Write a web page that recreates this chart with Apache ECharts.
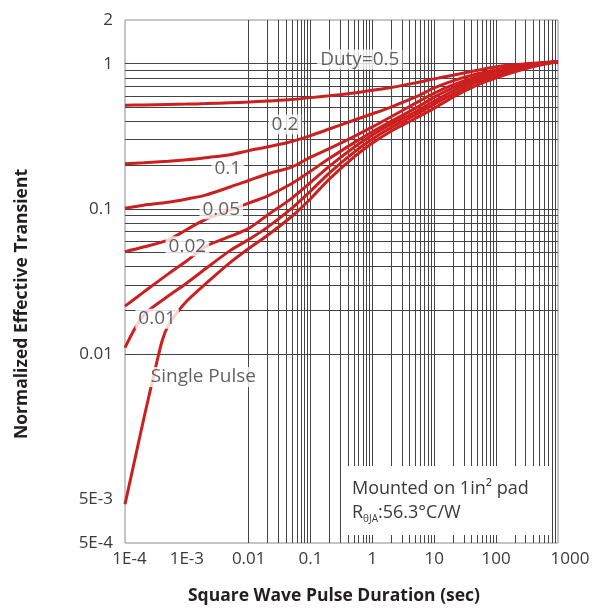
<!DOCTYPE html>
<html>
<head>
<meta charset="utf-8">
<script src="https://cdn.jsdelivr.net/npm/echarts@6/dist/echarts.min.js"></script>
<style>
  html, body { margin: 0; padding: 0; background: #fff; }
  #chart { width: 606px; height: 609px; }
</style>
</head>
<body>
<div id="chart"></div>
<script>
// Axis ticks and their printed labels
const xTicks = [1e-4, 1e-3, 0.01, 0.1, 1, 10, 100, 1000];
const xTickLabels = ['1E-4', '1E-3', '0.01', '0.1', '1', '10', '100', '1000'];
const yTicks = [5e-4, 1e-3, 0.01, 0.1, 1, 2];
const yTickLabels = ['5E-4', '5E-3', '0.01', '0.1', '1', '2'];

// Pulse durations (s) shared by the duty-cycle curves
const pulseTime = [1e-4, 2e-4, 5e-4, 1e-3, 2e-3, 5e-3, 0.01, 0.02, 0.05, 0.1, 0.2, 0.5,
                   1, 2, 5, 10, 20, 50, 100, 200, 500, 1000];

// Normalized effective transient thermal impedance per duty cycle
const duty05 = [0.518, 0.520, 0.524, 0.527, 0.531, 0.538, 0.544, 0.553, 0.566, 0.584, 0.601, 0.628,
                0.656, 0.686, 0.738, 0.786, 0.832, 0.901, 0.953, 0.984, 1.016, 1.03];
const duty02 = [0.205, 0.208, 0.213, 0.218, 0.225, 0.236, 0.252, 0.267, 0.291, 0.320, 0.355, 0.408,
                0.452, 0.503, 0.590, 0.681, 0.762, 0.852, 0.908, 0.961, 1.008, 1.03];
const duty01 = [0.101, 0.106, 0.111, 0.117, 0.1245, 0.1416, 0.157, 0.174, 0.195, 0.227, 0.260, 0.315,
                0.367, 0.431, 0.535, 0.628, 0.714, 0.818, 0.880, 0.945, 1.0, 1.03];
const duty005 = [0.0508, 0.0546, 0.0611, 0.0722, 0.0848, 0.098, 0.1096, 0.1226, 0.1497, 0.182, 0.222, 0.285,
                 0.340, 0.401, 0.494, 0.589, 0.681, 0.799, 0.866, 0.938, 1.0, 1.03];
const duty002 = [0.0214, 0.0267, 0.0357, 0.0440, 0.055, 0.0646, 0.0734, 0.0904, 0.1187, 0.1523, 0.1965, 0.265,
                 0.323, 0.383, 0.467, 0.553, 0.649, 0.780, 0.852, 0.923, 0.992, 1.03];
const duty001 = [0.01107, 0.0185, 0.0251, 0.0309, 0.0387, 0.0516, 0.0615, 0.0746, 0.1011, 0.1326, 0.1766, 0.2453,
                 0.3035, 0.363, 0.445, 0.527, 0.618, 0.749, 0.825, 0.901, 0.984, 1.03];

// Single pulse curve (denser sampling at the steep start)
const singleTime = [1e-4, 1.5e-4, 2e-4, 2.5e-4, 3e-4, 4e-4, 5e-4, 7e-4, 1e-3, 2e-3, 5e-3, 0.01, 0.02, 0.05,
                    0.1, 0.2, 0.5, 1, 2, 5, 10, 20, 50, 100, 200, 500, 1000];
const singlePulse = [9.24e-4, 2.03e-3, 3.55e-3, 5.39e-3, 7.54e-3, 0.0124, 0.01576, 0.0194, 0.0232, 0.0304,
                     0.0426, 0.0533, 0.0656, 0.089, 0.1175, 0.160, 0.227, 0.284, 0.343, 0.421, 0.494,
                     0.589, 0.714, 0.799, 0.880, 0.976, 1.03];

// Curve tags: text and the data point each one is centred on
const tagText = ['Duty=0.5', '0.2', '0.1', '0.05', '0.02', '0.01', 'Single Pulse'];
const tagTime = [0.625, 0.0385, 4.6e-3, 3.6e-3, 1.02e-3, 3.3e-4, 1.85e-3];
const tagLevel = [1.07, 0.382, 0.189, 0.0995, 0.0554, 0.0175, 6.96e-3];

const FONT = '"Open Sans", "Noto Sans", sans-serif';
const TEXT = '#3a3a3a';
const RED = '#cc1f1f';

// Log-paper grid: 1..9 x 10^n inside the plotted ranges
function logGrid(lo, hi, skipAbove) {
  const out = [];
  for (let n = -5; n <= 3; n++) {
    for (let k = 1; k <= 9; k++) {
      const v = +(k * Math.pow(10, n)).toPrecision(6);
      if (v > lo * 1.0001 && v < hi * 0.9999 && !(skipAbove && v > skipAbove * 1.0001)) out.push(v);
    }
  }
  return out;
}
const xGrid = logGrid(1e-4, 1000);
const yGrid = logGrid(5e-4, 2, 1);

function pickLabel(v, ticks, labels) {
  const lv = Math.log10(v);
  for (let i = 0; i < ticks.length; i++) {
    if (Math.abs(lv - Math.log10(ticks[i])) < 0.02) return labels[i];
  }
  return '';
}

function curve(name, times, values) {
  return {
    name: name,
    type: 'line',
    data: times.map((t, i) => [t, values[i]]),
    showSymbol: false,
    symbol: 'none',
    smooth: 0.3,
    lineStyle: { color: RED, width: 3 },
    zlevel: 1,
    z: 3,
    silent: true
  };
}

const chart = echarts.init(document.getElementById('chart'), null, { renderer: 'canvas' });

chart.setOption({
  animation: false,
  backgroundColor: '#fff',
  grid: { left: 125, right: 48, top: 20, bottom: 66, show: true, borderColor: '#8c8c8c', borderWidth: 1 },
  xAxis: {
    type: 'log',
    logBase: 10,
    min: 1e-4,
    max: 1000,
    axisLine: { show: false },
    axisTick: { show: false },
    splitLine: { show: false },
    axisLabel: {
      margin: 8,
      color: TEXT,
      fontFamily: FONT,
      fontSize: 17,
      formatter: function (v) {
        const s = pickLabel(v, xTicks, xTickLabels);
        if (s === xTickLabels[0]) return '{first|' + s + '}';
        if (s === xTickLabels[xTickLabels.length - 1]) return '{last|' + s + '}';
        return s;
      },
      rich: {
        first: { color: TEXT, fontFamily: FONT, fontSize: 17, padding: [0, 0, 0, 9] },
        last: { color: TEXT, fontFamily: FONT, fontSize: 17, padding: [0, 0, 0, 24] }
      }
    }
  },
  yAxis: {
    type: 'log',
    logBase: 10,
    min: 5e-4,
    max: 2,
    axisLine: { show: false },
    axisTick: { show: false },
    splitLine: { show: false },
    axisLabel: {
      margin: 12,
      color: TEXT,
      fontFamily: FONT,
      fontSize: 17,
      formatter: function (v) { return pickLabel(v, yTicks, yTickLabels); }
    }
  },
  series: [
    {
      name: 'grid',
      type: 'line',
      data: [],
      zlevel: 0,
      z: 1,
      silent: true,
      markLine: {
        silent: true,
        animation: false,
        symbol: ['none', 'none'],
        label: { show: false },
        emphasis: { disabled: true },
        lineStyle: { color: '#444', width: 1, type: 'solid' },
        data: xGrid.map(v => ({ xAxis: v })).concat(yGrid.map(v => ({ yAxis: v })))
      }
    },
    curve('Duty=0.5', pulseTime, duty05),
    curve('0.2', pulseTime, duty02),
    curve('0.1', pulseTime, duty01),
    curve('0.05', pulseTime, duty005),
    curve('0.02', pulseTime, duty002),
    curve('0.01', pulseTime, duty001),
    curve('Single Pulse', singleTime, singlePulse),
    {
      name: 'tags',
      type: 'scatter',
      symbolSize: 0,
      zlevel: 2,
      z: 6,
      silent: true,
      data: tagTime.map((t, i) => ({ value: [t, tagLevel[i]], name: tagText[i] })),
      label: {
        show: true,
        position: 'inside',
        formatter: p => p.name,
        backgroundColor: '#fff',
        padding: [1, 3, 0, 3],
        color: TEXT,
        fontFamily: FONT,
        fontSize: 19
      }
    }
  ],
  graphic: [
    {
      type: 'text',
      x: 334, y: 596,
      zlevel: 2,
      style: {
        text: 'Square Wave Pulse Duration (sec)',
        font: 'bold 17.5px ' + FONT,
        fill: '#231f20',
        align: 'center',
        verticalAlign: 'middle'
      }
    },
    {
      type: 'text',
      x: 22, y: 304,
      rotation: Math.PI / 2,
      zlevel: 2,
      style: {
        text: 'Normalized Effective Transient',
        font: 'bold 17.5px ' + FONT,
        fill: '#231f20',
        align: 'center',
        verticalAlign: 'middle'
      }
    },
    {
      type: 'rect',
      zlevel: 2,
      shape: { x: 346, y: 466, width: 204, height: 69 },
      style: { fill: '#fff' }
    },
    {
      type: 'text',
      x: 352, y: 489,
      zlevel: 2,
      z: 10,
      style: {
        text: 'Mounted on 1in² pad',
        font: '18px ' + FONT,
        fill: TEXT,
        align: 'left',
        verticalAlign: 'middle'
      }
    },
    {
      type: 'text',
      x: 352, y: 513,
      zlevel: 2,
      z: 10,
      style: {
        text: '{m|R}{s|θJA}{m|:56.3°C/W}',
        align: 'left',
        verticalAlign: 'middle',
        rich: {
          m: { fontSize: 18, fontFamily: FONT, fill: TEXT, color: TEXT, lineHeight: 22, verticalAlign: 'middle' },
          s: { fontSize: 10, fontFamily: FONT, fill: TEXT, color: TEXT, lineHeight: 22, verticalAlign: 'bottom' }
        }
      }
    }
  ]
});
</script>
</body>
</html>
